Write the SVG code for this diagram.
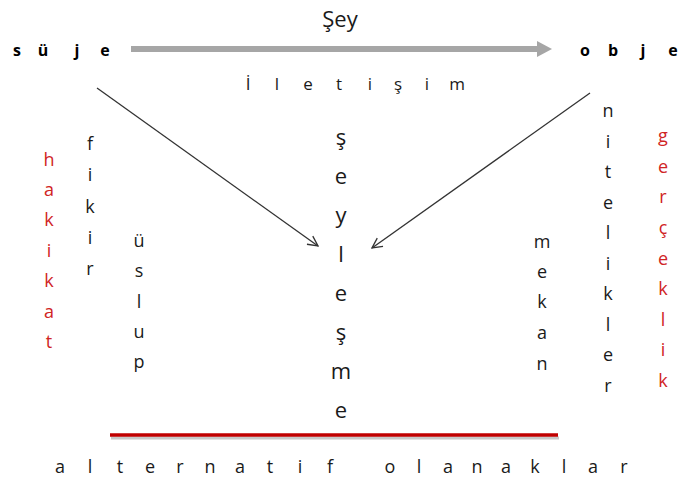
<svg xmlns="http://www.w3.org/2000/svg" width="680" height="482" viewBox="0 0 680 482">
<style>
text{font-family:"Open Sans","Noto Sans","DejaVu Sans",sans-serif;text-anchor:middle;fill:#1a1a1a}
.b{font-weight:bold;font-size:16px;fill:#000}
.s{font-size:17px}
.v{font-size:18px}
.big{font-size:22px}
.red{fill:#d02424}
.conn{stroke:#333;stroke-width:1.3;fill:none}
</style>
<defs>
<marker id="open" viewBox="0 0 12 12" refX="11" refY="6" markerWidth="12" markerHeight="12" markerUnits="userSpaceOnUse" orient="auto">
<path d="M1,1 L11,6 L1,11" fill="none" stroke="#333" stroke-width="1.3"/>
</marker>
</defs>
<rect width="680" height="482" fill="#fff"/>
<g id="connectors">
<line x1="131" y1="49" x2="539" y2="49" stroke="#a6a6a6" stroke-width="6"/>
<polygon points="537,41 552,49 537,57" fill="#a6a6a6"/>
<line class="conn" x1="97" y1="88" x2="318" y2="246" marker-end="url(#open)"/>
<line class="conn" x1="590" y1="93" x2="372" y2="248" marker-end="url(#open)"/>
<line x1="111" y1="438" x2="559" y2="438" stroke="#c8c8c8" stroke-width="3"/>
<line x1="110" y1="435" x2="558" y2="435" stroke="#c00000" stroke-width="3.5"/>
</g>
<g id="suje"><text class="b" x="17 43 77 105" y="56">süje</text></g>
<g id="obje"><text class="b" x="585 613 643 673" y="56">obje</text></g>
<g id="sey"><text class="big" x="340" y="27">Şey</text></g>
<g id="iletisim"><text class="s" x="248 277 308 339 370 398 427 457" y="90">İletişim</text></g>
<g id="seylesme"><text class="big" x="341 341 341 341 341 341 341 341" y="145 184 223 262 301 340 379 418">şeyleşme</text></g>
<g id="hakikat"><text class="v red" x="49 49 49 49 49 49 49" y="166 196 226 257 287 318 348">hakikat</text></g>
<g id="fikir"><text class="v" x="90 90 90 90 90" y="150 181 213 244 275">fikir</text></g>
<g id="uslup"><text class="v" x="139 139 139 139 139" y="247 277 308 338 368">üslup</text></g>
<g id="mekan"><text class="v" x="542 542 542 542 542" y="248 278 308 339 370">mekan</text></g>
<g id="nitelikler"><text class="v" x="608 608 608 608 608 608 608 608 608 608" y="117 148 178 209 239 270 300 331 361 392">nitelikler</text></g>
<g id="gerceklik"><text class="v red" x="663 663 663 663 663 663 663 663 663" y="142 173 203 234 265 295 326 356 387">gerçeklik</text></g>
<g id="alternatif"><text class="v" x="60 90 120 150 180 210 240 270 300 330" y="473">alternatif</text></g>
<g id="olanaklar"><text class="v" x="390 419 448 477 506 535 564 593 624" y="473">olanaklar</text></g>
</svg>
